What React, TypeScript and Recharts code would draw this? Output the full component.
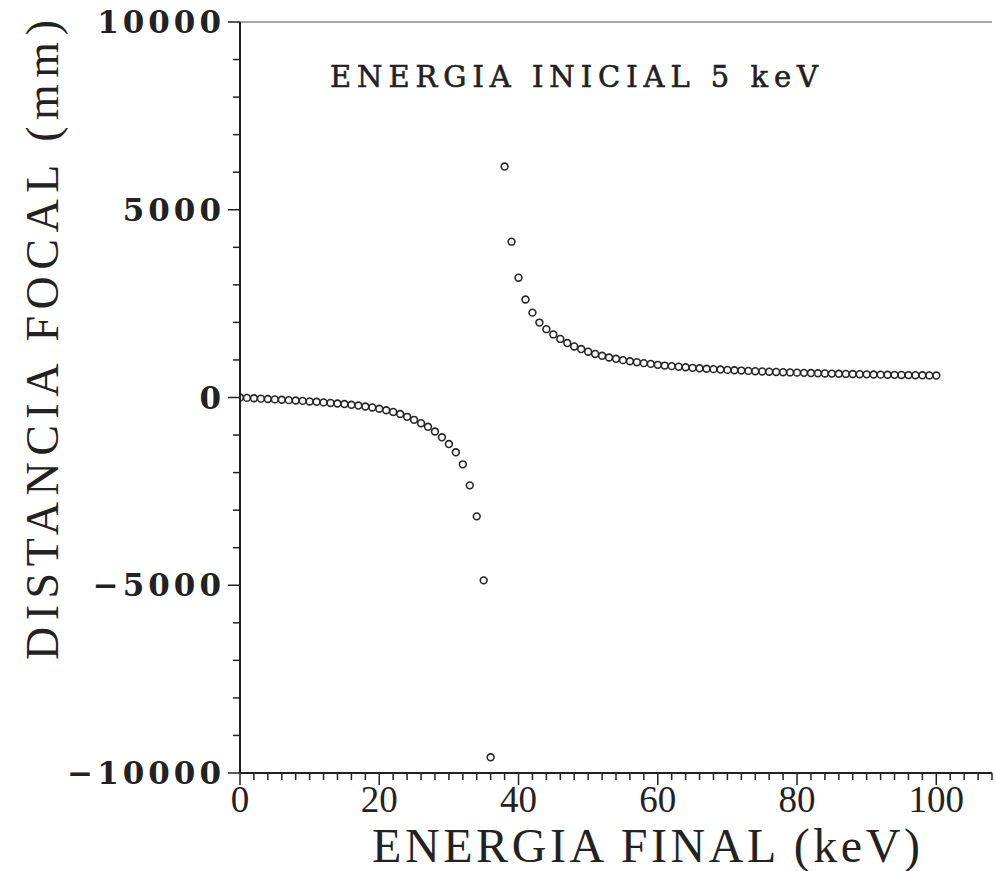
import React from "react";
import {
  ScatterChart,
  Scatter,
  XAxis,
  YAxis,
  ReferenceLine,
  Customized
} from "recharts";

// energia final (keV); the point at 37 keV falls off the plot and is not drawn
const energiaFinal = [
  0, 1, 2, 3, 4, 5, 6, 7, 8, 9, 10, 11, 12, 13, 14, 15, 16, 17, 18, 19, 20,
  21, 22, 23, 24, 25, 26, 27, 28, 29, 30, 31, 32, 33, 34, 35, 36,
  38, 39, 40, 41, 42, 43, 44, 45, 46, 47, 48, 49, 50, 51, 52, 53, 54, 55, 56,
  57, 58, 59, 60, 61, 62, 63, 64, 65, 66, 67, 68, 69, 70, 71, 72, 73, 74, 75,
  76, 77, 78, 79, 80, 81, 82, 83, 84, 85, 86, 87, 88, 89, 90, 91, 92, 93, 94,
  95, 96, 97, 98, 99, 100
];

// distancia focal (mm)
const distanciaFocal = [
  0, -10, -20, -30, -40, -50, -60, -70, -80, -90, -105, -115, -130, -145,
  -160, -175, -195, -215, -240, -265, -300, -340, -385, -440, -515, -595,
  -685, -780, -905, -1060, -1240, -1460, -1780, -2340, -3165, -4870, -9580,
  6150, 4150, 3190, 2610, 2260, 1995, 1820, 1680, 1560, 1450, 1360, 1290,
  1220, 1160, 1110, 1065, 1030, 995, 965, 940, 915, 895, 870, 850, 835, 820,
  805, 790, 778, 766, 755, 745, 735, 726, 717, 709, 701, 694, 687, 680, 674,
  668, 662, 656, 651, 646, 641, 636, 632, 628, 624, 620, 616, 612, 609, 606,
  603, 600, 597, 594, 591, 588, 585
];

const xTicks = [
  0, 2, 4, 6, 8, 10, 12, 14, 16, 18, 20, 22, 24, 26, 28, 30, 32, 34, 36, 38,
  40, 42, 44, 46, 48, 50, 52, 54, 56, 58, 60, 62, 64, 66, 68, 70, 72, 74, 76,
  78, 80, 82, 84, 86, 88, 90, 92, 94, 96, 98, 100, 102, 104, 106, 108
];
const yTicks = [
  -10000, -9000, -8000, -7000, -6000, -5000, -4000, -3000, -2000, -1000, 0,
  1000, 2000, 3000, 4000, 5000, 6000, 7000, 8000, 9000, 10000
];

const data = energiaFinal.map((e, i) => ({ e, f: distanciaFocal[i] }));

const ink = "#222";

const XTick = (props: any) => {
  const { x, y, payload } = props;
  const v = payload.value;
  const major = v % 20 === 0;
  return (
    <g>
      <line x1={x} x2={x} y1={y} y2={y + (major ? 12 : 7)} stroke={ink} strokeWidth={1.5} />
      {major && v <= 100 && (
        <text
          x={x}
          y={y + 39}
          textAnchor="middle"
          fontFamily="Liberation Serif"
          fontSize={37}
          fill={ink}
        >
          {v}
        </text>
      )}
    </g>
  );
};

const YTick = (props: any) => {
  const { x, y, payload } = props;
  const v = payload.value;
  const major = v % 5000 === 0;
  return (
    <g>
      <line x1={x - (major ? 12 : 7)} x2={x} y1={y} y2={y} stroke={ink} strokeWidth={1.5} />
      {major && (
        <text
          x={x - 15}
          y={y + 11}
          textAnchor="end"
          fontFamily="DejaVu Serif"
          fontWeight="bold"
          fontSize={31}
          letterSpacing={4}
          fill={ink}
        >
          {v < 0 ? "\u2212" + Math.abs(v) : v}
        </text>
      )}
    </g>
  );
};

const Dot = (props: any) => {
  const { cx, cy } = props;
  return <circle cx={cx} cy={cy} r={3.4} fill="none" stroke="#262626" strokeWidth={1.6} />;
};

const Texts = () => (
  <g fill={ink} style={{ whiteSpace: "pre" }}>
    <text
      x={330}
      y={87}
      fontFamily="DejaVu Serif"
      fontSize={29}
      stroke={ink}
      strokeWidth={0.6}
      textLength={488}
      lengthAdjust="spacing"
    >
      {"ENERGIA  INICIAL  5  keV"}
    </text>
    <text
      x={372}
      y={862}
      fontFamily="Liberation Serif"
      fontSize={48}
      textLength={548}
      lengthAdjust="spacing"
    >
      {"ENERGIA  FINAL  (keV)"}
    </text>
    <text
      transform="translate(58, 660) rotate(-90)"
      x={0}
      y={0}
      fontFamily="Liberation Serif"
      fontSize={46}
      textLength={640}
      lengthAdjust="spacing"
    >
      {"DISTANCIA  FOCAL  (mm)"}
    </text>
  </g>
);

export default function App() {
  return (
    <div style={{ position: "absolute", left: 0, top: 0, width: 996, height: 871, background: "#fff" }}>
      <ScatterChart width={996} height={871} margin={{ top: 22, right: 4, bottom: 0, left: 0 }}>
        <XAxis
          type="number"
          dataKey="e"
          domain={[0, 108]}
          ticks={xTicks}
          interval={0}
          tickSize={0}
          tickMargin={0}
          tickLine={false}
          tick={<XTick />}
          height={98}
          axisLine={{ stroke: ink, strokeWidth: 2 }}
          allowDataOverflow
        />
        <YAxis
          type="number"
          dataKey="f"
          domain={[-10000, 10000]}
          ticks={yTicks}
          interval={0}
          tickSize={0}
          tickMargin={0}
          tickLine={false}
          tick={<YTick />}
          width={240}
          axisLine={{ stroke: ink, strokeWidth: 2 }}
          allowDataOverflow
        />
        <ReferenceLine y={10000} stroke="#8a8a8a" strokeWidth={1.5} />
        <Scatter data={data} shape={<Dot />} isAnimationActive={false} />
        <Customized component={Texts} />
      </ScatterChart>
    </div>
  );
}
